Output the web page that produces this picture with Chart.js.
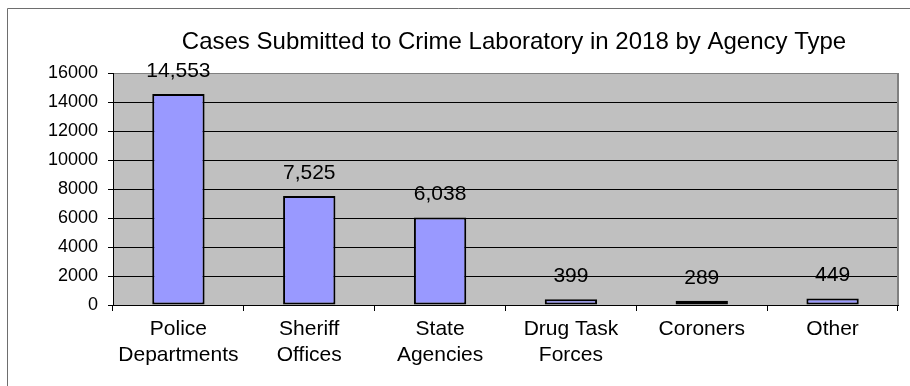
<!DOCTYPE html>
<html>
<head>
<meta charset="utf-8">
<script src="https://cdn.jsdelivr.net/npm/chart.js@4.4.1/dist/chart.umd.min.js"></script>
<style>
  html, body { margin: 0; padding: 0; background: #ffffff; }
  #wrap { width: 910px; height: 386px; position: relative; }
</style>
</head>
<body>
<div id="wrap"><canvas id="chart" width="910" height="386"></canvas></div>
<script>
// Crime laboratory submissions, 2018, by agency type
const chartTitle = 'Cases Submitted to Crime Laboratory in 2018 by Agency Type';
const categories = [
  ['Police', 'Departments'],
  ['Sheriff', 'Offices'],
  ['State', 'Agencies'],
  ['Drug Task', 'Forces'],
  ['Coroners'],
  ['Other']
];
const caseCounts = [14553, 7525, 6038, 399, 289, 449];
const yMin = 0;
const yMax = 16000;
const yStep = 2000;

const FONT = "'Liberation Sans', Arial, sans-serif";

// Page frame, grey plot background, plot border, value labels and title
const decorations = {
  id: 'decorations',
  beforeDraw(chart) {
    const { ctx, chartArea: a } = chart;
    ctx.save();
    ctx.fillStyle = '#ffffff';
    ctx.fillRect(0, 0, chart.width, chart.height);
    // outer frame (top and left edges)
    ctx.strokeStyle = '#6e6e6e';
    ctx.lineWidth = 1;
    ctx.beginPath();
    ctx.moveTo(7.5, chart.height);
    ctx.lineTo(7.5, 8.5);
    ctx.lineTo(chart.width, 8.5);
    ctx.stroke();
    // plot area fill
    ctx.fillStyle = '#c0c0c0';
    ctx.fillRect(a.left, a.top, a.right - a.left, a.bottom - a.top);
    ctx.restore();
  },
  afterDatasetsDraw(chart) {
    const { ctx, chartArea: a } = chart;
    ctx.save();
    // right edge of the plot area
    ctx.strokeStyle = '#808080';
    ctx.lineWidth = 2;
    ctx.beginPath();
    ctx.moveTo(a.right, a.top);
    ctx.lineTo(a.right, a.bottom);
    ctx.stroke();

    // value labels above each bar
    ctx.fillStyle = '#000000';
    ctx.font = '21px ' + FONT;
    ctx.textAlign = 'center';
    ctx.textBaseline = 'middle';
    const meta = chart.getDatasetMeta(0);
    meta.data.forEach((bar, i) => {
      const v = chart.data.datasets[0].data[i];
      ctx.fillText(v.toLocaleString('en-US'), bar.x, bar.y - 23);
    });

    // chart title
    ctx.font = '24px ' + FONT;
    ctx.fillText(chartTitle, 514, 42);
    ctx.restore();
  }
};

new Chart(document.getElementById('chart'), {
  type: 'bar',
  data: {
    labels: categories,
    datasets: [{
      data: caseCounts,
      backgroundColor: '#9999ff',
      borderColor: '#000000',
      borderWidth: 2,
      borderSkipped: false,
      categoryPercentage: 1.0,
      barPercentage: 0.4
    }]
  },
  options: {
    responsive: false,
    animation: false,
    devicePixelRatio: 1,
    layout: { padding: { top: 73, right: 12, left: 0, bottom: 0 } },
    plugins: {
      legend: { display: false },
      title: { display: false },
      tooltip: { enabled: false }
    },
    scales: {
      x: {
        offset: true,
        grid: {
          offset: true,
          drawOnChartArea: false,
          drawTicks: true,
          tickLength: 6,
          tickColor: '#000000'
        },
        border: { display: true, color: '#000000', width: 1 },
        ticks: {
          color: '#000000',
          font: { family: FONT, size: 21, lineHeight: 1.2 },
          padding: 6,
          maxRotation: 0,
          autoSkip: false
        },
        afterFit(scale) { scale.height = 81; }
      },
      y: {
        min: yMin,
        max: yMax,
        grid: {
          color: (c) => (c.tick && c.tick.value === yMax) ? '#808080' : '#000000',
          lineWidth: 1,
          drawTicks: true,
          tickLength: 5,
          tickColor: '#000000'
        },
        border: { display: true, color: '#000000', width: 1 },
        ticks: {
          stepSize: yStep,
          color: '#000000',
          font: { family: FONT, size: 18 },
          padding: 10,
          callback: (v) => String(v)
        },
        afterFit(scale) { scale.width = 113; }
      }
    }
  },
  plugins: [decorations]
});
</script>
</body>
</html>
